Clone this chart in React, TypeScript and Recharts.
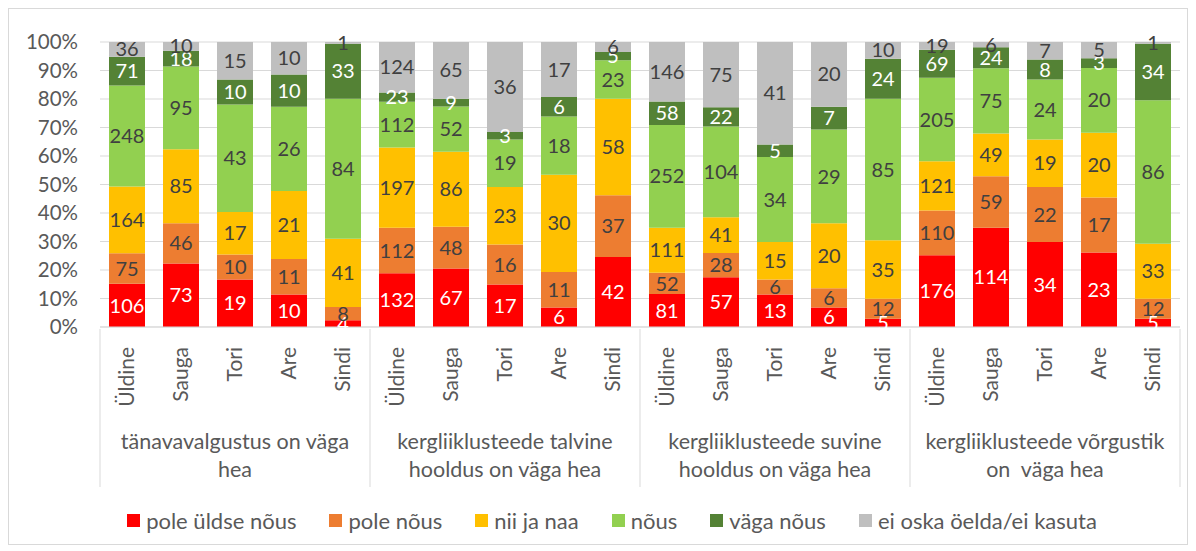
import { BarChart, Bar, XAxis, YAxis, CartesianGrid, Legend, LabelList } from 'recharts'

const places = ['Üldine', 'Sauga', 'Tori', 'Are', 'Sindi']
const groupLabels = [
  ['tänavavalgustus on väga', 'hea'],
  ['kergliiklusteede talvine', 'hooldus on väga hea'],
  ['kergliiklusteede suvine', 'hooldus on väga hea'],
  ['kergliiklusteede võrgustik', 'on\u00A0 väga hea'],
]
const yTicks = [0, 0.1, 0.2, 0.3, 0.4, 0.5, 0.6, 0.7, 0.8, 0.9, 1]

// one value per bar: 4 questions x 5 places
const poleYldseNous = [106, 73, 19, 10, 4, 132, 67, 17, 6, 42, 81, 57, 13, 6, 5, 176, 114, 34, 23, 5]
const poleNous = [75, 46, 10, 11, 8, 112, 48, 16, 11, 37, 52, 28, 6, 6, 12, 110, 59, 22, 17, 12]
const niiJaNaa = [164, 85, 17, 21, 41, 197, 86, 23, 30, 58, 111, 41, 15, 20, 35, 121, 49, 19, 20, 33]
const nous = [248, 95, 43, 26, 84, 112, 52, 19, 18, 23, 252, 104, 34, 29, 85, 205, 75, 24, 20, 86]
const vagaNous = [71, 18, 10, 10, 33, 23, 9, 3, 6, 5, 58, 22, 5, 7, 24, 69, 24, 8, 3, 34]
const eiOska = [36, 10, 15, 10, 1, 124, 65, 36, 17, 6, 146, 75, 41, 20, 10, 19, 6, 7, 5, 1]

const series = [
  { key: 'a', name: 'pole üldse nõus', values: poleYldseNous, color: '#FF0000', label: '#FFFFFF' },
  { key: 'b', name: 'pole nõus', values: poleNous, color: '#ED7D31', label: '#404040' },
  { key: 'c', name: 'nii ja naa', values: niiJaNaa, color: '#FFC000', label: '#404040' },
  { key: 'd', name: 'nõus', values: nous, color: '#92D050', label: '#404040' },
  { key: 'e', name: 'väga nõus', values: vagaNous, color: '#548235', label: '#FFFFFF' },
  { key: 'f', name: 'ei oska öelda/ei kasuta', values: eiOska, color: '#BFBFBF', label: '#404040' },
]

const data = poleYldseNous.map((_, i) => {
  const row: any = { name: places[i % 5] }
  series.forEach(s => { row[s.key] = s.values[i] })
  return row
})

const TEXT = '#595959'
const LINE = '#D9D9D9'
const HALF = 27

const CategoryTick = (props: any) => {
  const { x, y, payload } = props
  const i = payload.index
  const g = Math.floor(i / 5)
  return (
    <g>
      <text x={x + 7} y={y + 18} transform={`rotate(-90 ${x + 7} ${y + 18})`} textAnchor="end"
        fill={TEXT} fontSize={21}>{payload.value}</text>
      {i % 5 === 0 && <line x1={x - HALF} x2={x - HALF} y1={y} y2={y + 158} stroke={LINE} />}
      {i === data.length - 1 && <line x1={x + HALF} x2={x + HALF} y1={y} y2={y + 158} stroke={LINE} />}
      {i % 5 === 2 && (
        <text x={x} y={y + 120} textAnchor="middle" fill={TEXT} fontSize={21.5}>
          <tspan x={x} dy={0}>{groupLabels[g][0]}</tspan>
          <tspan x={x} dy={28}>{groupLabels[g][1]}</tspan>
        </text>
      )}
    </g>
  )
}

const LegendContent = () => (
  <div style={{ display: 'flex', justifyContent: 'center', gap: 33, paddingLeft: 35, paddingTop: 10, color: TEXT, fontSize: 22 }}>
    {series.map(s => (
      <div key={s.key} style={{ display: 'flex', alignItems: 'center', gap: 6 }}>
        <span style={{ width: 13, height: 13, background: s.color, display: 'inline-block' }} />
        <span>{s.name}</span>
      </div>
    ))}
  </div>
)

export default function App() {
  return (
    <div style={{ width: 1180, height: 537, border: `1px solid ${LINE}`, boxSizing: 'border-box', fontFamily: 'Lato, sans-serif', background: '#fff' }}>
      <BarChart width={1178} height={535} data={data} stackOffset="expand" barSize={36}
        margin={{ top: 33, right: 7, left: 0, bottom: 7 }}>
        <CartesianGrid vertical={false} stroke={LINE} />
        <XAxis dataKey="name" interval={0} height={170} tickSize={0} tickLine={false}
          axisLine={{ stroke: LINE }} tick={<CategoryTick />} />
        <YAxis width={91} domain={[0, 1]} ticks={yTicks} tickFormatter={(v: number) => `${Math.round(v * 100)}%`}
          axisLine={false} tickLine={false} tickSize={0} tickMargin={22}
          tick={{ fill: TEXT, fontSize: 20.5 }} />
        <Legend verticalAlign="bottom" height={40} content={<LegendContent />} />
        {series.map(s => (
          <Bar key={s.key} dataKey={s.key} name={s.name} stackId="1" fill={s.color} isAnimationActive={false}>
            <LabelList dataKey={s.key} position="center" fill={s.label} fontSize={20} />
          </Bar>
        ))}
      </BarChart>
    </div>
  )
}
